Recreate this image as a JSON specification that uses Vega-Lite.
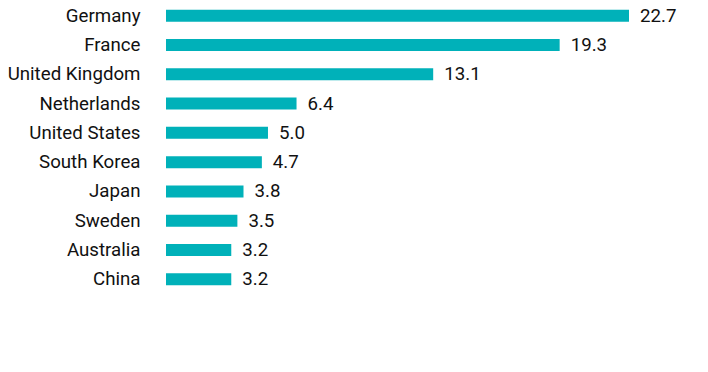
{
  "$schema": "https://vega.github.io/schema/vega-lite/v6.json",
  "autosize": "none",
  "width": 463,
  "height": 293,
  "padding": {"left": 166, "top": 1, "right": 79, "bottom": 78},
  "background": "white",
  "config": {"view": {"stroke": null}, "font": "Roboto"},
  "data": {"values": [
    {"country": "Germany", "value": 22.7},
    {"country": "France", "value": 19.3},
    {"country": "United Kingdom", "value": 13.1},
    {"country": "Netherlands", "value": 6.4},
    {"country": "United States", "value": 5.0},
    {"country": "South Korea", "value": 4.7},
    {"country": "Japan", "value": 3.8},
    {"country": "Sweden", "value": 3.5},
    {"country": "Australia", "value": 3.2},
    {"country": "China", "value": 3.2}
  ]},
  "encoding": {
    "y": {"field": "country", "type": "nominal", "sort": null,
      "scale": {"paddingInner": 0.59, "paddingOuter": 0.295},
      "axis": {"title": null, "ticks": false, "domain": false, "labelPadding": 26, "labelFontSize": 18.7, "labelColor": "#111111", "labelFont": "Roboto"}},
    "x": {"field": "value", "type": "quantitative",
      "scale": {"domain": [0, 22.7], "nice": false, "zero": true},
      "axis": null}
  },
  "layer": [
    {"mark": {"type": "bar", "color": "#00B1B9"}},
    {"mark": {"type": "text", "align": "left", "baseline": "middle", "dx": 11, "fontSize": 18.7, "color": "#111111", "font": "Roboto"},
     "encoding": {"text": {"field": "value", "type": "quantitative", "format": ".1f"}}}
  ]
}
